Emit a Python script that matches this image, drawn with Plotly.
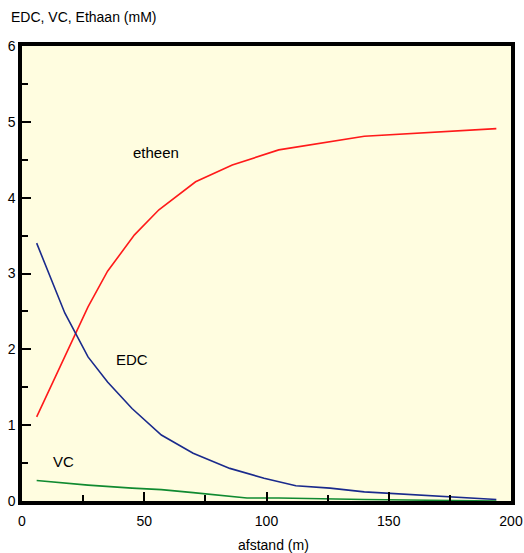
import plotly.graph_objects as go

# distance (m)
etheen_x = [6, 17.5, 27, 35, 46, 56, 71, 86, 105, 140, 194]
etheen_y = [1.11, 1.90, 2.56, 3.03, 3.51, 3.84, 4.21, 4.43, 4.63, 4.81, 4.91]

edc_x = [6, 17.5, 27, 35, 45, 57, 70, 85, 99, 112, 126, 140, 194]
edc_y = [3.40, 2.48, 1.90, 1.57, 1.22, 0.87, 0.63, 0.43, 0.30, 0.20, 0.17, 0.12, 0.02]

vc_x = [6, 27, 45, 57, 70, 85, 92, 105, 140, 194]
vc_y = [0.27, 0.21, 0.17, 0.15, 0.11, 0.06, 0.04, 0.04, 0.02, 0.0]

labels = [("etheen", 55, 4.6), ("EDC", 45, 1.86), ("VC", 17, 0.52)]

FONT = "Liberation Sans Narrow, Arial Narrow, Liberation Sans, Arial"

fig = go.Figure()
fig.add_trace(go.Scatter(x=etheen_x, y=etheen_y, mode="lines",
                         line=dict(color="#ff1a1a", width=1.6), showlegend=False))
fig.add_trace(go.Scatter(x=edc_x, y=edc_y, mode="lines",
                         line=dict(color="#1a2a8c", width=1.6), showlegend=False))
fig.add_trace(go.Scatter(x=vc_x, y=vc_y, mode="lines",
                         line=dict(color="#108a30", width=1.6), showlegend=False))

for text, x, y in labels:
    fig.add_annotation(x=x, y=y, text=text, showarrow=False,
                       font=dict(family=FONT, size=15, color="black"))

fig.add_annotation(xref="paper", yref="paper", x=0, xshift=-13, y=1.0, yshift=19,
                   xanchor="left", yanchor="bottom", showarrow=False,
                   text="EDC, VC, Ethaan (mM)",
                   font=dict(family=FONT, size=14, color="black"))

fig.add_annotation(xref="paper", yref="paper", x=0.5, xshift=7, y=0, yshift=-44,
                   xanchor="center", yanchor="middle", showarrow=False,
                   text="afstand (m)",
                   font=dict(family=FONT, size=14, color="black"))

axis_common = dict(showgrid=False, zeroline=False, showline=True,
                   linecolor="black", linewidth=3.5, mirror=True, automargin=False,
                   ticks="inside", ticklen=9, tickwidth=2, tickcolor="black",
                   tickfont=dict(family=FONT, size=14, color="black"))

fig.update_xaxes(range=[0, 200], tickvals=[0, 50, 100, 150, 200],
                 ticklabelstandoff=4,
                 minor=dict(tickvals=[25, 75, 125, 175], ticks="inside",
                            ticklen=6, tickwidth=2, tickcolor="black"),
                 **axis_common)
fig.update_yaxes(range=[0, 6], tickvals=[0, 1, 2, 3, 4, 5, 6],
                 minor=dict(tickvals=[0.5, 1.5, 2.5, 3.5, 4.5, 5.5], ticks="inside",
                            ticklen=6, tickwidth=2, tickcolor="black"),
                 **axis_common)

fig.update_layout(width=524, height=553,
                  margin=dict(l=22, r=13, t=46, b=52),
                  plot_bgcolor="#fffde0", paper_bgcolor="white")

fig.write_html("out.html")
